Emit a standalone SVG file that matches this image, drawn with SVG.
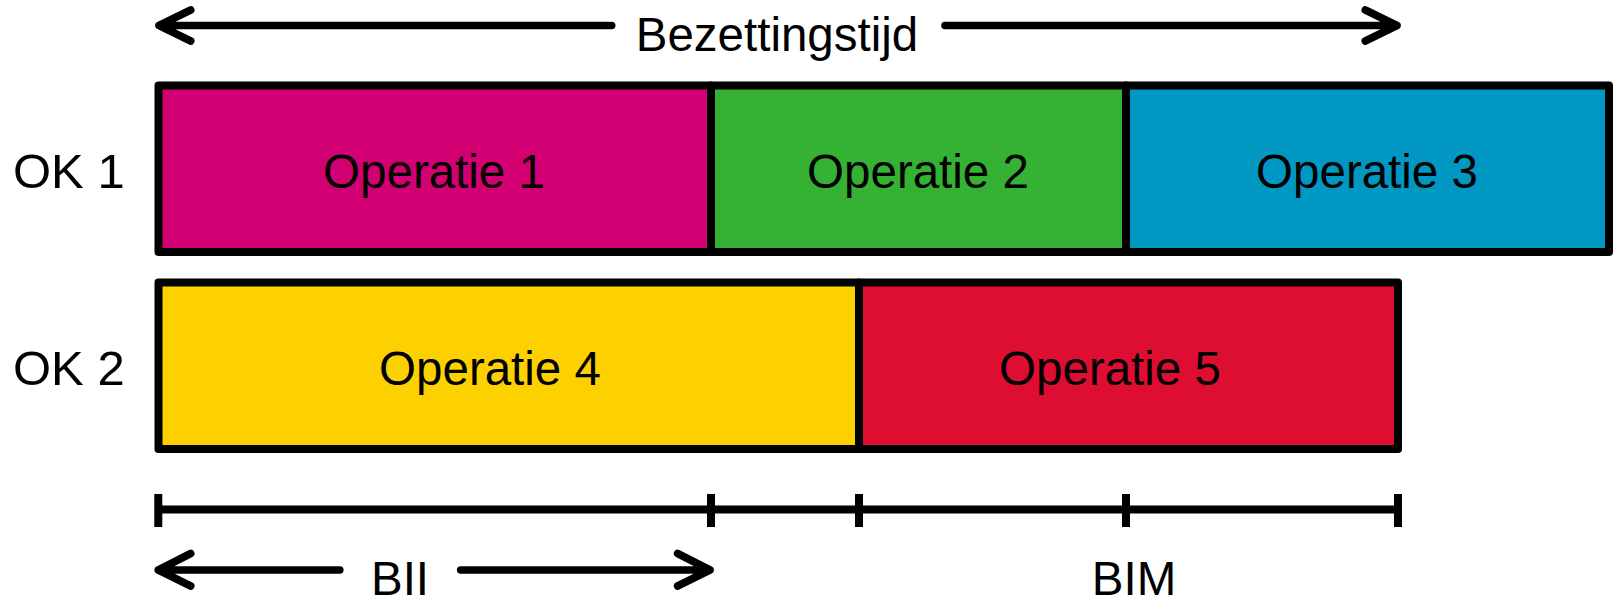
<svg xmlns="http://www.w3.org/2000/svg" width="1617" height="601" viewBox="0 0 1617 601">
  <style>
    .op { stroke: #000; stroke-width: 8; stroke-linejoin: round; }
    .lbl { font-family: "Liberation Sans", Arial, sans-serif; font-size: 47.5px; fill: #000; }
    .row { font-size: 49px; }
    .mid { text-anchor: middle; }
    .ln { stroke: #000; stroke-width: 7.6; fill: none; stroke-linecap: round; stroke-linejoin: round; }
    .tick { stroke: #000; stroke-width: 8; fill: none; stroke-linecap: butt; }
  </style>
  <rect width="1617" height="601" fill="#fff"/>

  <g id="row-labels">
    <text class="lbl row" x="13" y="188">OK 1</text>
    <text class="lbl row" x="13" y="385">OK 2</text>
  </g>

  <g id="op1">
    <rect class="op" x="158.5" y="85.5" width="552.5" height="166.5" fill="#D20073"/>
    <text class="lbl mid" x="434" y="188">Operatie 1</text>
  </g>
  <g id="op2">
    <rect class="op" x="711" y="85.5" width="415" height="166.5" fill="#35B234"/>
    <text class="lbl mid" x="918" y="188">Operatie 2</text>
  </g>
  <g id="op3">
    <rect class="op" x="1126" y="85.5" width="483" height="166.5" fill="#0097C2"/>
    <text class="lbl mid" x="1367" y="188">Operatie 3</text>
  </g>
  <g id="op4">
    <rect class="op" x="158.5" y="282.5" width="700.5" height="166.5" fill="#FDD100"/>
    <text class="lbl mid" x="490" y="385">Operatie 4</text>
  </g>
  <g id="op5">
    <rect class="op" x="859" y="282.5" width="539" height="166.5" fill="#DD0E31"/>
    <text class="lbl mid" x="1110" y="385">Operatie 5</text>
  </g>

  <g id="connectors">
    <path class="ln" d="M611.7 25.5 H159 M190.7 10 L159 25.5 L190.7 41"/>
    <path class="ln" d="M945 25.5 H1397 M1365.3 10 L1397 25.5 L1365.3 41"/>
    <line class="tick" x1="158.3" y1="509.5" x2="1398" y2="509.5" stroke-width="7.6"/>
    <path class="tick" d="M158.3 494 V527 M711 494 V527 M859 494 V527 M1126 494 V527 M1398 494 V527"/>
    <path class="ln" d="M339.8 570 H158.3 M190.7 553.5 L158.3 570 L190.7 586"/>
    <path class="ln" d="M460.7 570 H710 M677.6 553.5 L710 570 L677.6 586"/>
  </g>

  <g id="labels">
    <text class="lbl mid" x="777" y="51">Bezettingstijd</text>
    <text class="lbl mid" x="400" y="595">BII</text>
    <text class="lbl mid" x="1134" y="595">BIM</text>
  </g>
</svg>
